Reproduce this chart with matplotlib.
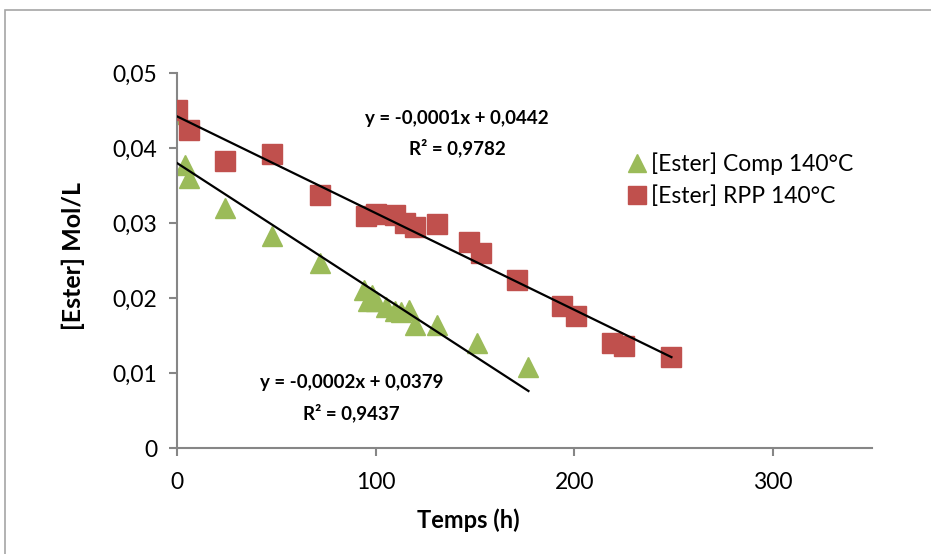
import numpy as np
import matplotlib.pyplot as plt
from matplotlib.ticker import FuncFormatter
from matplotlib.patches import Rectangle

plt.rcParams['font.family'] = ['Lato', 'DejaVu Sans']

# [Ester] Comp 140°C
t_comp = [0, 4, 6, 24, 48, 72, 94, 96, 98, 100, 105, 110, 113, 117, 120, 131, 151, 177]
c_comp = [0.0446, 0.0378, 0.0360, 0.0320, 0.0283, 0.0247, 0.0211, 0.0197, 0.0204, 0.0196,
          0.0188, 0.0183, 0.0182, 0.0185, 0.0164, 0.0164, 0.0141, 0.0108]

# [Ester] RPP 140°C
t_rpp = [0, 6, 24, 48, 72, 95, 100, 110, 115, 120, 131, 147, 153, 171, 194, 201, 219, 225, 249]
c_rpp = [0.0451, 0.0424, 0.0383, 0.0392, 0.0338, 0.0310, 0.0312, 0.0311, 0.0301, 0.0295,
         0.0299, 0.0275, 0.0261, 0.0224, 0.0190, 0.0176, 0.0141, 0.0136, 0.0122]

eq_comp = 'y = -0,0002x + 0,0379\nR² = 0,9437'
eq_rpp = 'y = -0,0001x + 0,0442\nR² = 0,9782'

green = '#9BBB59'
red = '#C0504D'

fig = plt.figure(figsize=(9.31, 5.54), dpi=100)
ax = fig.add_axes([177 / 931, 1 - 448.3 / 554, (872 - 177) / 931, (448.3 - 73.3) / 554])

# cadre gris du graphique
fig.patches.append(Rectangle((5 / 931, -0.1), 1.2, 1 - 10 / 554 + 0.1, transform=fig.transFigure,
                             fill=False, edgecolor='#A6A6A6', linewidth=1.2))

ax.plot(t_comp, c_comp, linestyle='none', marker='^', markersize=14.4, color=green,
        label='[Ester] Comp 140°C', zorder=2)
ax.plot(t_rpp, c_rpp, linestyle='none', marker='s', markersize=14.4, color=red,
        label='[Ester] RPP 140°C', zorder=3)

# droites de régression
for t, c in [(t_comp, c_comp), (t_rpp, c_rpp)]:
    a, b = np.polyfit(t, c, 1)
    xx = np.array([0, max(t)])
    ax.plot(xx, a * xx + b, color='black', linewidth=1.6, zorder=4)

ax.text(141, 0.0420, eq_rpp, ha='center', va='center', fontsize=13.5, fontweight='bold',
        linespacing=1.75)
ax.text(88, 0.0067, eq_comp, ha='center', va='center', fontsize=13.5, fontweight='bold',
        linespacing=1.75)

ax.set_xlim(0, 350)
ax.set_ylim(0, 0.05)
ax.set_xticks([0, 100, 200, 300])
ax.set_yticks([0, 0.01, 0.02, 0.03, 0.04, 0.05])
ax.yaxis.set_major_formatter(FuncFormatter(lambda v, p: ('%g' % round(v, 3)).replace('.', ',')))

for s in ['top', 'right']:
    ax.spines[s].set_visible(False)
for s in ['left', 'bottom']:
    ax.spines[s].set_color('#868686')
    ax.spines[s].set_linewidth(1.5)
ax.tick_params(direction='out', length=6, width=1.5, color='#868686', labelsize=16.5, pad=8)
ax.tick_params(axis='x', pad=11)

ax.set_xlabel('Temps (h)', fontsize=17, fontweight='bold')
ax.set_ylabel('[Ester] Mol/L', fontsize=18, fontweight='bold')
ax.xaxis.set_label_coords((468 - 177) / 695, -(508 - 448.3) / 375)
ax.yaxis.set_label_coords(-(177 - 85) / 695, (448.3 - 256) / 375)

ax.legend(loc='upper left', bbox_to_anchor=(614 / 931, 1 - 141 / 554), bbox_transform=fig.transFigure,
          frameon=False, fontsize=16.5, handletextpad=0.1, labelspacing=0.45, markerscale=0.9,
          borderpad=0, handlelength=1.0)

fig.savefig('out.png', dpi=100)
